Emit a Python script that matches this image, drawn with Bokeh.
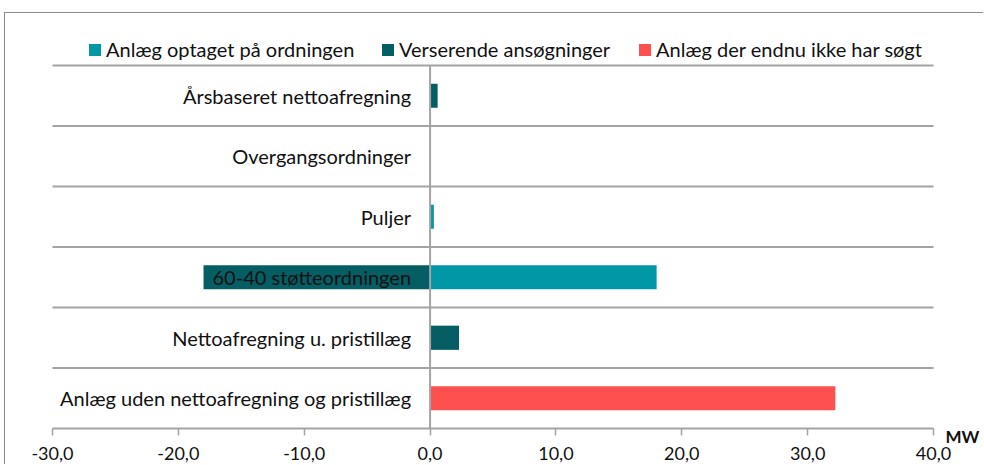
import numpy as np
from bokeh.plotting import figure
from bokeh.models import (ColumnDataSource, Range1d, FixedTicker, Legend, LegendItem, Label,
                          CustomJSTickFormatter)
from bokeh.core.properties import value
from bokeh.embed import file_html
from bokeh.resources import INLINE

# ---------------- data ----------------
categories = ["Årsbaseret nettoafregning", "Overgangsordninger", "Puljer",
              "60-40 støtteordningen", "Nettoafregning u. pristillæg",
              "Anlæg uden nettoafregning og pristillæg"]
optaget = [0.0, 0.0, 0.3, 18.0, 0.0, 0.0]
verserende = [0.6, 0.0, 0.0, -18.0, 2.3, 0.0]
ikke_soegt = [0.0, 0.0, 0.0, 0.0, 0.0, 32.2]
series_names = ["Anlæg optaget på ordningen", "Verserende ansøgninger",
                "Anlæg der endnu ikke har søgt"]
series_colors = ["#0098A6", "#055E64", "#FF5050"]
x_ticks = [-30, -20, -10, 0, 10, 20, 30, 40]
x_tick_labels = ["-30,0", "-20,0", "-10,0", "0,0", "10,0", "20,0", "30,0", "40,0"]
unit_label = "MW"

FONT = "Lato"
GRAY = "#a3a3a3"
TXT = "#111111"

n = len(categories)
ypos = [n - 0.5 - i for i in range(n)]
xmin, xmax = x_ticks[0], x_ticks[-1]

p = figure(width=979, height=452, x_range=Range1d(-33.734, 44.05),
           y_range=Range1d(-0.6116, 6.8595),
           output_backend="svg", toolbar_location=None, y_axis_location=None,
           min_border_left=0, min_border_right=0, min_border_top=0,
           min_border_bottom=0)
p.styles = {"position": "relative", "left": "4px", "top": "12px",
            "border-left": "1px solid #8c8c8c", "border-top": "1px solid #8c8c8c"}
p.outline_line_color = None
p.background_fill_color = "white"
p.border_fill_color = "white"
p.xgrid.visible = False
p.ygrid.visible = False

ax = p.xaxis[0]
ax.fixed_location = 0
ax.ticker = FixedTicker(ticks=x_ticks)
ax.formatter = CustomJSTickFormatter(
    args=dict(tick_values=x_ticks, tick_labels=x_tick_labels),
    code="const i = tick_values.indexOf(tick); return i >= 0 ? tick_labels[i] : '';")
ax.minor_tick_line_color = None
ax.major_tick_in = 0
ax.major_tick_out = 7
ax.major_tick_line_color = GRAY
ax.major_tick_line_width = 1.5
ax.axis_line_color = None
ax.major_label_standoff = 12
ax.major_label_text_font = FONT
ax.major_label_text_font_size = "18px"
ax.major_label_text_color = TXT

# stacked bars
pos = np.zeros(n)
neg = np.zeros(n)
renderers = []
for vals, color in zip([optaget, verserende, ikke_soegt], series_colors):
    v = np.array(vals, dtype=float)
    left = np.where(v >= 0, pos, neg + v)
    right = np.where(v >= 0, pos + v, neg)
    pos = np.where(v >= 0, pos + v, pos)
    neg = np.where(v < 0, neg + v, neg)
    src = ColumnDataSource(dict(y=ypos, left=left, right=right))
    r = p.hbar(y="y", left="left", right="right", height=0.4, source=src,
               fill_color=color, line_color=None)
    renderers.append(r)

# band separators (and baseline) across the plotting area
bounds = list(range(0, n + 1))
p.segment(x0=[xmin] * len(bounds), x1=[xmax] * len(bounds), y0=bounds, y1=bounds,
          line_color=GRAY, line_width=2)
# zero line
p.segment(x0=[0], x1=[0], y0=[0], y1=[n], line_color=GRAY, line_width=2)

lab_src = ColumnDataSource(dict(y=ypos, text=categories))
p.text(x=0, y="y", text="text", source=lab_src, x_offset=-19,
       text_align="right", text_baseline="middle", text_font=value(FONT),
       text_font_size="20px", text_color=TXT)

legend_x = [82, 375, 632]
for name, r, lx in zip(series_names, renderers, legend_x):
    leg = Legend(items=[LegendItem(label=name, renderers=[r])], location=(lx, 404),
                 orientation="horizontal", border_line_color=None,
                 background_fill_alpha=0, padding=0, margin=0, glyph_width=15,
                 glyph_height=15, label_standoff=4, label_text_font=FONT,
                 label_text_font_size="20px", label_text_color=TXT)
    p.add_layout(leg)

p.add_layout(Label(x=xmax, y=0, x_offset=12, y_offset=-8, text=unit_label,
                   text_font=FONT, text_font_size="17px", text_font_style="bold",
                   text_baseline="middle", text_color=TXT))

open("out.html", "w").write(file_html(p, INLINE))
